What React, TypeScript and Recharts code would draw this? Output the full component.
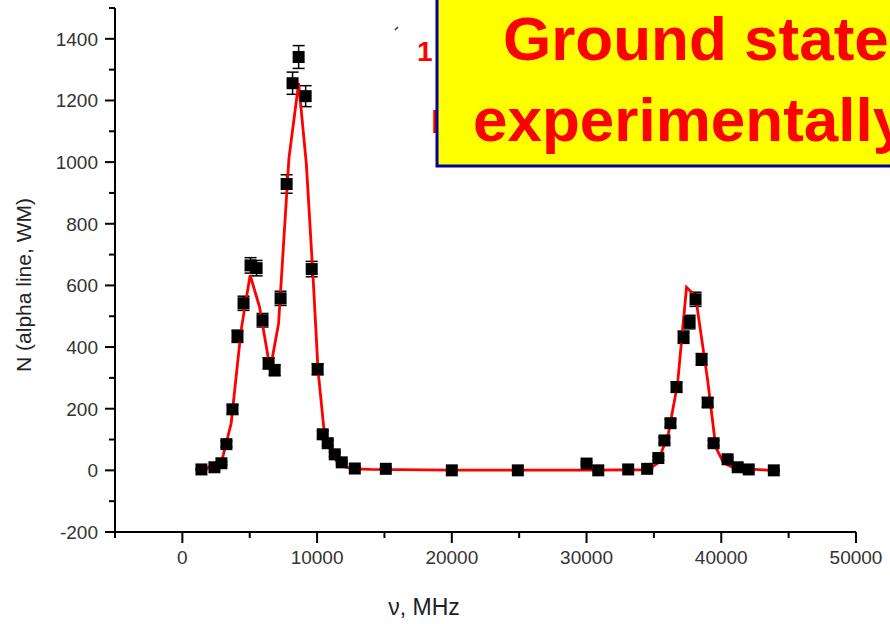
import { ComposedChart, Scatter, Line, XAxis, YAxis, ErrorBar } from 'recharts';

// measured points (frequency MHz, counts, error)
const pointFreq = [
  1414, 2380, 2900, 3270, 3720, 4090, 4540, 5060, 5510, 5950, 6400, 6850, 7290, 7740, 8180, 8630, 9150, 9600,
  10040, 10420, 10790, 11310, 11830, 12800, 15100, 20000, 24900, 30000, 30870, 33090, 34500, 35330, 35780,
  36230, 36680, 37200, 37650, 38090, 38540, 38990, 39430, 40470, 41220, 42040, 43900,
];
const pointCount = [
  3, 10, 23, 85, 198, 435, 542, 665, 656, 487, 347, 325, 558, 929, 1256, 1341, 1214, 653,
  328, 117, 88, 52, 26, 6, 5, 0, 0, 22, 0, 3, 5, 40, 97,
  153, 270, 432, 481, 555, 360, 220, 88, 36, 10, 3, 0,
];
const pointErr = [
  2, 3, 5, 9, 14, 20, 23, 25, 25, 22, 18, 18, 23, 30, 36, 37, 34, 25,
  18, 11, 9, 7, 5, 2, 2, 1, 1, 5, 1, 2, 2, 6, 10,
  12, 16, 20, 22, 23, 19, 15, 9, 6, 3, 2, 1,
];

// fitted curve (red)
const fitFreq = [
  1500, 2230, 2950, 3620, 4360, 5030, 5730, 6520, 7140, 7910, 8630, 9200, 9700, 10070, 10490, 11060, 11680,
  12670, 14000, 20000, 30000, 34500, 35250, 36080, 36760, 37420, 38090, 38990, 39590, 40180, 41070, 43900,
];
const fitCount = [
  3, 13, 35, 152, 455, 633, 530, 327, 476, 1012, 1256, 996, 628, 325, 141, 54, 16,
  5, 3, 1, 1, 2, 22, 120, 282, 594, 565, 292, 75, 23, 6, 0,
];

const xTicks = [-5000, 0, 5000, 10000, 15000, 20000, 25000, 30000, 35000, 40000, 45000, 50000];
const xMajor = [0, 10000, 20000, 30000, 40000, 50000];
const yTicks = [-200, -100, 0, 100, 200, 300, 400, 500, 600, 700, 800, 900, 1000, 1100, 1200, 1300, 1400, 1500];
const yMajor = [-200, 0, 200, 400, 600, 800, 1000, 1200, 1400];

const points = pointFreq.map((f, i) => ({ x: f, y: pointCount[i], err: pointErr[i] }));
const fit = fitFreq.map((f, i) => ({ x: f, y: fitCount[i] }));

const FONT = '"Liberation Sans", Arial, sans-serif';

function XTick(props: any) {
  const { x, y, payload } = props;
  const major = xMajor.includes(payload.value);
  return (
    <g>
      <line x1={x} y1={y} x2={x} y2={y + (major ? 11 : 6)} stroke="#000" strokeWidth={2} />
      {major && (
        <text x={x} y={y + 32} textAnchor="middle" fontSize={19} fill="#333" fontFamily={FONT}>
          {payload.value}
        </text>
      )}
    </g>
  );
}

function YTick(props: any) {
  const { x, y, payload } = props;
  const major = yMajor.includes(payload.value);
  return (
    <g>
      <line x1={x - (major ? 10 : 6)} y1={y} x2={x} y2={y} stroke="#000" strokeWidth={2} />
      {major && (
        <text x={x - 17} y={y + 7} textAnchor="end" fontSize={19} fill="#333" fontFamily={FONT}>
          {payload.value}
        </text>
      )}
    </g>
  );
}

const Square = (p: any) => <rect x={p.cx - 6} y={p.cy - 6} width={12} height={12} fill="#000" />;

export default function App() {
  return (
    <div style={{ position: 'absolute', left: 0, top: 0, width: 890, height: 624, background: '#fff', overflow: 'hidden' }}>
      <ComposedChart width={890} height={624} margin={{ top: 8, right: 34, bottom: 2, left: 0 }}>
        <XAxis
          dataKey="x"
          type="number"
          domain={[-5000, 50000]}
          ticks={xTicks}
          interval={0}
          allowDataOverflow
          height={90}
          tickSize={0}
          tickMargin={0}
          tickLine={false}
          tick={<XTick />}
          axisLine={{ stroke: '#000', strokeWidth: 2 }}
        />
        <YAxis
          dataKey="y"
          type="number"
          domain={[-200, 1500]}
          ticks={yTicks}
          interval={0}
          allowDataOverflow
          width={115}
          tickSize={0}
          tickMargin={0}
          tickLine={false}
          tick={<YTick />}
          axisLine={{ stroke: '#000', strokeWidth: 2 }}
        />
        <Scatter data={points} dataKey="y" shape={Square} isAnimationActive={false}>
          <ErrorBar dataKey="err" direction="y" width={6} stroke="#000" strokeWidth={1.5} />
        </Scatter>
        <Line
          data={fit}
          dataKey="y"
          type="linear"
          stroke="#ff0000"
          strokeWidth={2.8}
          dot={false}
          activeDot={false}
          isAnimationActive={false}
        />
      </ComposedChart>
      <svg width={890} height={624} style={{ position: 'absolute', left: 0, top: 0, pointerEvents: 'none' }}>
        <text
          transform="translate(31, 285) rotate(-90)"
          textAnchor="middle"
          fontSize={21}
          fill="#222"
          fontFamily={FONT}
        >
          N (alpha line, WM)
        </text>
        <text x={424} y={615} textAnchor="middle" fontSize={23} fill="#222" fontFamily={FONT}>
          ν, MHz
        </text>
        <line x1={395} y1={30} x2={398} y2={27} stroke="#333" strokeWidth={1.5} />
        <text x={417} y={61} fontSize={28} fontWeight="bold" fill="#ff0000" fontFamily={FONT}>1</text>
        <text x={431} y={133} fontSize={34} fontWeight="bold" fill="#ff0000" fontFamily={FONT}>E</text>
        <rect x={437} y={-5} width={470} height={171} fill="#ffff00" stroke="#00009c" strokeWidth={3} />
        <text x={503} y={60} fontSize={62} fontWeight="bold" fill="#ff0000" fontFamily={FONT}>
          Ground state
        </text>
        <text x={473} y={141} fontSize={62} fontWeight="bold" fill="#ff0000" fontFamily={FONT}>
          experimentally
        </text>
      </svg>
    </div>
  );
}
